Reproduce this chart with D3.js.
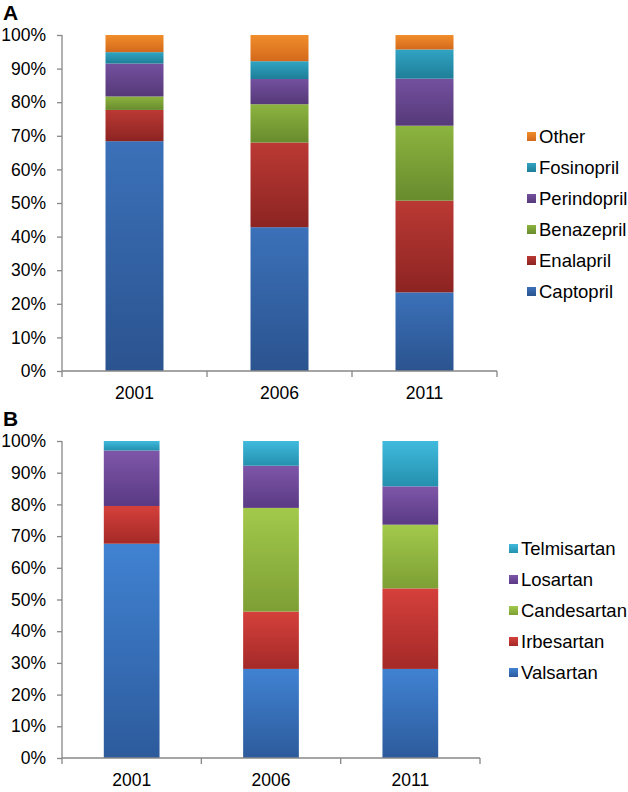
<!DOCTYPE html>
<html>
<head>
<meta charset="utf-8">
<script src="https://cdn.jsdelivr.net/npm/d3@7"></script>
<style>
    body { margin: 0; background: #fff; }
    svg { display: block; }
    text { font-family: "Liberation Sans", Arial, sans-serif; fill: #000; }
</style>
</head>
<body>
<svg id="chart" width="628" height="792"></svg>
<script>
// years shared by both panels
const years = ['2001', '2006', '2011'];

// panel A - ACE inhibitors (share of prescriptions, %)
const ace_drugs = ['Captopril', 'Enalapril', 'Benazepril', 'Perindopril', 'Fosinopril', 'Other'];
const captopril = [68.4, 42.8, 23.4];
const enalapril = [9.3, 25.2, 27.3];
const benazepril = [4.0, 11.4, 22.3];
const perindopril = [9.8, 7.5, 14.0];
const fosinopril = [3.4, 5.3, 8.7];
const other_ace = [5.1, 7.8, 4.3];

// panel B - ARBs (share of prescriptions, %)
const arb_drugs = ['Valsartan', 'Irbesartan', 'Candesartan', 'Losartan', 'Telmisartan'];
const valsartan = [67.6, 28.1, 28.1];
const irbesartan = [11.9, 18.1, 25.4];
const candesartan = [0.0, 32.7, 20.1];
const losartan = [17.5, 13.3, 12.1];
const telmisartan = [3.0, 7.8, 14.3];

const y_ticks = [0, 10, 20, 30, 40, 50, 60, 70, 80, 90, 100];

// top/bottom gradient colours per series
const ace_colors = [['#3b71b9', '#2b538f'], ['#bb3934', '#8c2422'], ['#8cb43f', '#688b2d'],
    ['#74509f', '#553978'], ['#31a4c3', '#1e7e98'], ['#f18d2b', '#d3691c']];
const arb_colors = [['#4082d2', '#2d5b9c'], ['#d5403b', '#a42a28'], ['#a3c94b', '#7d9f35'],
    ['#7e56a9', '#5a3a84'], ['#40badd', '#2490ae']];

const svg = d3.select('#chart');
const defs = svg.append('defs');

function make_gradients(prefix, colors) {
    colors.forEach((c, i) => {
        let grad = defs.append('linearGradient')
            .attr('id', prefix + i)
            .attr('x1', 0).attr('y1', 0).attr('x2', 0).attr('y2', 1);
        grad.append('stop').attr('offset', '0%').attr('stop-color', c[0]);
        grad.append('stop').attr('offset', '100%').attr('stop-color', c[1]);
    });
}

function draw_panel(opts) {
    let table = years.map((year, j) => {
        let row = {year: year};
        opts.keys.forEach((k, i) => row[k] = opts.values[i][j]);
        return row;
    });
    let stacked = d3.stack().keys(opts.keys)(table);

    let x = d3.scaleBand().domain(years).range([opts.left, opts.right])
        .paddingInner(0.6).paddingOuter(0.3);
    let y = d3.scaleLinear().domain([0, 100]).range([opts.bottom, opts.top]);

    make_gradients(opts.id, opts.colors);
    let g = svg.append('g');

    g.append('text')
        .attr('x', 3).attr('y', opts.top - 15)
        .style('font-size', '21px').style('font-weight', 'bold')
        .text(opts.label);

    stacked.forEach((layer, i) => {
        g.append('g')
            .attr('fill', 'url(#' + opts.id + i + ')')
            .selectAll('rect')
            .data(layer.filter(d => d[1] - d[0] > 0))
            .join('rect')
            .attr('x', d => x(d.data.year))
            .attr('width', x.bandwidth())
            .attr('y', d => y(d[1]))
            .attr('height', d => y(d[0]) - y(d[1]));
    });

    // y axis
    let y_axis = d3.axisLeft(y).tickValues(y_ticks).tickFormat(d => d + '%').tickSize(5).tickPadding(11);
    let ya = g.append('g').attr('transform', 'translate(' + opts.left + ',0)').call(y_axis);
    ya.select('.domain').attr('stroke', '#878787').attr('stroke-width', 1.3).attr('d', 'M0,' + opts.top + 'V' + opts.bottom);
    ya.selectAll('.tick line').attr('stroke', '#878787').attr('stroke-width', 1.3);
    ya.selectAll('.tick text').style('font-size', '17.5px')
        .style('font-family', '"Liberation Sans", Arial, sans-serif').attr('fill', '#000');

    // x axis with ticks between categories
    let step = x.step();
    let bounds = [0, 1, 2, 3].map(i => opts.left + i * step);
    g.append('line')
        .attr('x1', opts.left).attr('x2', opts.right)
        .attr('y1', opts.bottom).attr('y2', opts.bottom)
        .attr('stroke', '#878787').attr('stroke-width', 1.3);
    g.selectAll('.xtick').data(bounds).join('line')
        .attr('x1', d => d).attr('x2', d => d)
        .attr('y1', opts.bottom).attr('y2', opts.bottom + 6)
        .attr('stroke', '#878787').attr('stroke-width', 1.3);
    g.selectAll('.xlab').data(years).join('text')
        .attr('x', d => x(d) + x.bandwidth() / 2)
        .attr('y', opts.bottom + 28)
        .attr('text-anchor', 'middle')
        .style('font-size', '17.5px')
        .text(d => d);

    // legend, top entry is the last series
    let legend_items = opts.keys.map((k, i) => ({name: k, i: i})).reverse();
    let lg = g.selectAll('.legend').data(legend_items).join('g')
        .attr('transform', (d, j) => 'translate(' + opts.legend_x + ',' + (opts.legend_y + j * 31) + ')');
    lg.append('rect')
        .attr('x', 0).attr('y', -5).attr('width', 9).attr('height', 9)
        .attr('fill', d => 'url(#' + opts.id + d.i + ')');
    lg.append('text')
        .attr('x', 12).attr('y', 0).attr('dy', '0.35em')
        .style('font-size', '18.5px')
        .text(d => d.name);
}

draw_panel({
    id: 'ace', label: 'A', keys: ace_drugs,
    values: [captopril, enalapril, benazepril, perindopril, fosinopril, other_ace],
    colors: ace_colors,
    left: 62, right: 497, top: 35, bottom: 371,
    legend_x: 527, legend_y: 137
});

draw_panel({
    id: 'arb', label: 'B', keys: arb_drugs,
    values: [valsartan, irbesartan, candesartan, losartan, telmisartan],
    colors: arb_colors,
    left: 62, right: 480, top: 441, bottom: 758,
    legend_x: 509, legend_y: 549
});
</script>
</body>
</html>
